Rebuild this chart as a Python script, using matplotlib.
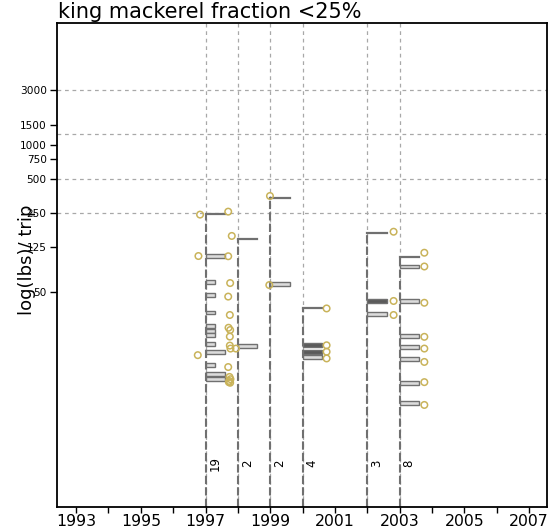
import numpy as np
import matplotlib
matplotlib.use("Agg")
import matplotlib.pyplot as plt
from matplotlib.ticker import FixedLocator, FixedFormatter, NullLocator

# fishing years that have trips, and number of trips in each
YEARS = [1997, 1998, 1999, 2000, 2002, 2003]
N_TRIPS = [19, 2, 2, 4, 3, 8]

# log-binned histogram of lbs/trip per year: bin centre and trip count (first bin = top of the stack)
BIN_1997 = [245, 104.5, 62.2, 47.3, 33.2, 25.2, 22.8, 21.0, 17.5, 14.9, 11.4, 9.5, 8.6]
CNT_1997 = [2, 2, 1, 1, 1, 1, 1, 1, 1, 2, 1, 2, 2]
BIN_1998 = [147.6, 16.8]
CNT_1998 = [1, 1]
BIN_1999 = [337, 59.2]
CNT_1999 = [1, 1]
BIN_2000 = [36.1, 17.1, 15.0, 13.4]
CNT_2000 = [1, 1, 1, 1]
BIN_2002 = [165.8, 42.0, 32.0]
CNT_2002 = [1, 1, 1]
BIN_2003 = [103.0, 84.5, 42.2, 20.5, 16.4, 13.0, 8.0, 5.3]
CNT_2003 = [1, 1, 1, 1, 1, 1, 1, 1]

# bins drawn with the dark fill
DARK_BINS = [(2000, 17.1), (2000, 15.0), (2002, 42.0)]

# individual trips: landing date (decimal year) and lbs/trip
TRIP_T = [1996.83, 1997.70, 1996.78, 1997.70, 1997.76, 1997.70, 1997.75, 1997.71, 1997.76,
          1997.75, 1997.75, 1997.77, 1996.76, 1997.70, 1997.74, 1997.77, 1997.72, 1997.76, 1997.73,
          1997.81, 1997.94,
          1998.99, 1998.97,
          2000.74, 2000.74, 2000.74, 2000.74,
          2002.81, 2002.81, 2002.81,
          2003.76, 2003.76, 2003.76, 2003.76, 2003.76, 2003.76, 2003.76, 2003.76]
TRIP_LBS = [242, 257, 104.5, 104, 60.4, 45.9, 31.6, 24.4, 23.3,
            20.4, 17.0, 16.0, 14.0, 11.0, 9.0, 8.6, 8.1, 8.0, 8.3,
            157, 16.0,
            353, 58,
            36.1, 17.1, 15.0, 13.1,
            171, 42.0, 31.6,
            111.7, 84.5, 40.5, 20.3, 16.0, 12.2, 8.1, 5.1]

Y_TICKS = [3000, 1500, 1000, 750, 500, 250, 125, 50]
Y_GRID = [3000, 1250, 500, 250]
X_TICKS = list(range(1993, 2008))

XLIM = (1992.41, 2007.55)
YLIM = (0.644, 11780)

BAR_HALF = 10 ** 0.017    # half thickness of one bin on the log axis
FULL_W = 0.6              # width (years) of the fullest bin of a year
LINE_C = "#707070"
GRID_C = "#a8a8a8"
TRIP_C = "#c9b35a"

fig = plt.figure(figsize=(5.48, 5.31), dpi=100)
ax = fig.add_axes([57 / 548, 24 / 531, 490 / 548, 484 / 531])
ax.set_yscale("log")
ax.set_xlim(*XLIM)
ax.set_ylim(*YLIM)

for g in Y_GRID:
    ax.axhline(g, color=GRID_C, ls=(0, (3, 3)), lw=0.9, zorder=1)

bins = [BIN_1997, BIN_1998, BIN_1999, BIN_2000, BIN_2002, BIN_2003]
counts = [CNT_1997, CNT_1998, CNT_1999, CNT_2000, CNT_2002, CNT_2003]
for yr, n, lbs, cnt in zip(YEARS, N_TRIPS, bins, counts):
    ax.axvline(yr, color=GRID_C, ls=(0, (3, 3)), lw=0.9, zorder=1)
    ax.plot([yr, yr], [YLIM[0], lbs[0]], color=LINE_C, ls=(0, (4, 1.5)), lw=1.5, zorder=2)
    lbs = np.array(lbs, dtype=float)
    w = np.array(cnt, dtype=float) / max(cnt) * FULL_W
    ax.plot([yr, yr + w[0]], [lbs[0], lbs[0]], color=LINE_C, lw=1.6, zorder=3)
    lo, hi = lbs[1:] / BAR_HALF, lbs[1:] * BAR_HALF
    fills = ["#5a5a5a" if (yr, v) in DARK_BINS else "#dcdcdc" for v in lbs[1:]]
    ax.barh(lo, w[1:], height=hi - lo, left=yr, align="edge", color=fills,
            edgecolor=LINE_C, linewidth=1.0, zorder=3)
    ax.text(yr + 0.09, 1.55, str(n), rotation=90, ha="left", va="center",
            fontsize=8.5, color="black")

ax.scatter(TRIP_T, TRIP_LBS, s=22, facecolors="none", edgecolors=TRIP_C, linewidths=1.1, zorder=4)

ax.yaxis.set_major_locator(FixedLocator(Y_TICKS))
ax.yaxis.set_major_formatter(FixedFormatter([str(v) for v in Y_TICKS]))
ax.yaxis.set_minor_locator(NullLocator())
ax.xaxis.set_major_locator(FixedLocator(X_TICKS))
ax.xaxis.set_major_formatter(FixedFormatter([str(y) if y % 2 else "" for y in X_TICKS]))
ax.tick_params(axis="y", length=5, width=1, labelsize=7.6, pad=2.4)
ax.tick_params(axis="x", length=4.5, width=1, labelsize=11.3, pad=0.5)

for s in ax.spines.values():
    s.set_linewidth(1.3)

ax.set_ylabel("log(lbs)/ trip", fontsize=13)
ax.yaxis.set_label_coords(-0.043, 0.51)

fig.text(58 / 548, 1 - 18 / 531, "king mackerel fraction <25%", fontsize=15,
         ha="left", va="baseline")

fig.savefig("out.png", dpi=100, facecolor="white")
